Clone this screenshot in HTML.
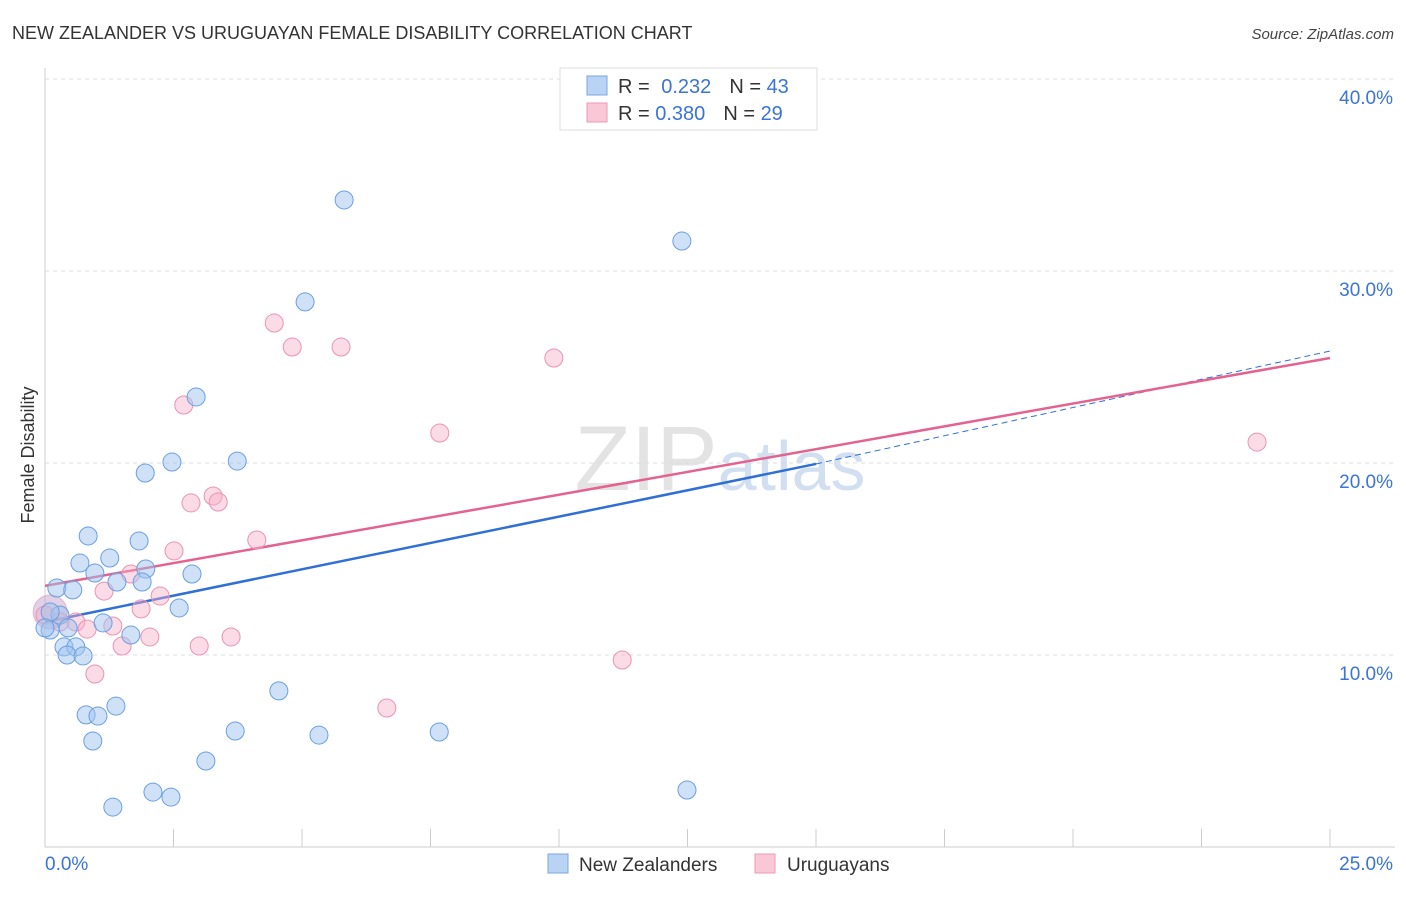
<!DOCTYPE html>
<html><head><meta charset="utf-8"><style>
body{margin:0;background:#fff;font-family:"Liberation Sans",sans-serif;}
svg text{font-family:"Liberation Sans",sans-serif;}
</style></head><body>
<svg id="chart" width="1406" height="892" xmlns="http://www.w3.org/2000/svg">
<text x="12" y="39" font-size="18" fill="#333">NEW ZEALANDER VS URUGUAYAN FEMALE DISABILITY CORRELATION CHART</text>
<text x="1394" y="39" font-size="15" fill="#444" text-anchor="end" font-style="italic">Source: ZipAtlas.com</text>
<text x="720" y="490" font-size="92" fill="#ddd" text-anchor="middle" font-family="Liberation Serif" opacity="0.8">ZIP<tspan fill="#c8d8ee" font-family="Liberation Sans" font-size="70">atlas</tspan></text>
<text transform="translate(34,455) rotate(-90)" font-size="18" fill="#333" text-anchor="middle">Female Disability</text>
<g id="grid"></g><g id="lines"></g><g id="pts"></g>
<g>
<rect x="560" y="68" width="257" height="62" fill="#fff" stroke="#ddd"/>
<rect x="587" y="76" width="20" height="19" fill="#b9d3f5" stroke="#7aa7e2"/>
<rect x="587" y="103" width="20" height="19" fill="#f9c7d6" stroke="#ee9ab5"/>
<text x="618" y="93" font-size="20" fill="#333">R = <tspan fill="#3a74d6" dx="6">0.232</tspan><tspan dx="18" fill="#333">N = </tspan><tspan fill="#3a74d6">43</tspan></text>
<text x="618" y="120" font-size="20" fill="#333">R = <tspan fill="#3a74d6">0.380</tspan><tspan dx="18" fill="#333">N = </tspan><tspan fill="#3a74d6">29</tspan></text>
</g>
<g>
<rect x="548" y="854" width="20" height="19" fill="#b9d3f5" stroke="#7aa7e2"/>
<text x="579" y="871" font-size="19" fill="#333">New Zealanders</text>
<rect x="755" y="854" width="20" height="19" fill="#f9c7d6" stroke="#ee9ab5"/>
<text x="787" y="871" font-size="19" fill="#333">Uruguayans</text>
</g>
</svg>
<script>
const xTicks=[0,2.5,5,7.5,10,12.5,15,17.5,20,22.5,25];
const yTicks=[10,20,30,40];
const blueX=[5.82,12.39,5.06,2.94,2.47,3.74,1.95,0.84,1.83,1.26,0.68,0.97,2.86,1.96,1.40,1.89,0.23,0.54,2.61,0.29,1.13,0.45,0.10,1.67,0.37,0.60,0.43,0.74,4.55,1.38,0.80,1.03,3.70,5.33,7.67,0.93,3.13,2.10,2.45,1.32,12.49,0.10,0.0];
const blueY=[33.70,31.56,28.39,23.44,20.05,20.10,19.48,16.20,15.94,15.05,14.79,14.27,14.22,14.48,13.80,13.80,13.49,13.39,12.45,12.08,11.67,11.41,11.30,11.04,10.42,10.42,10.00,9.95,8.13,7.34,6.88,6.82,6.04,5.83,5.99,5.52,4.48,2.86,2.60,2.08,2.97,12.24,11.41];
const pinkX=[4.46,4.81,5.76,9.90,2.70,7.68,23.58,3.27,2.84,3.37,4.12,2.51,1.67,1.15,2.24,1.87,0.60,1.32,0.82,2.04,3.62,1.50,3.00,11.23,0.97,6.65,0.29,0];
const pinkY=[27.29,26.04,26.04,25.47,23.02,21.56,21.09,18.28,17.92,17.97,15.99,15.42,14.22,13.33,13.07,12.40,11.72,11.51,11.35,10.94,10.94,10.47,10.47,9.74,9.01,7.24,11.72,12.08];
const bigPoint=[0.10,12.24];
const blueLine=[[0,11.72],[15,19.95]];
const blueDash=[[15,19.95],[25,25.83]];
const pinkLine=[[0,13.60],[25,25.47]];
const NS='http://www.w3.org/2000/svg';
const X=v=>45+v*51.4, Y=v=>847-v*19.2;
function mk(t,a,p){const e=document.createElementNS(NS,t);for(const k in a)e.setAttribute(k,a[k]);document.getElementById(p).appendChild(e);return e;}
const g='grid';
let ax=mk('line',{x1:45,y1:68,x2:45,y2:847,stroke:'#ccc'},g);

let bx=mk('line',{x1:45,y1:847,x2:1395,y2:847,stroke:'#ccc'},g);

yTicks.forEach(v=>{
 let l=mk('line',{x1:45,y1:Y(v),x2:1395,y2:Y(v),stroke:'#ddd','stroke-dasharray':'4,4'},g);
 
 let t=mk('text',{x:1393,y:Y(v)+25,'font-size':19,fill:'#3a74d6','text-anchor':'end'},g);
 t.textContent=v.toFixed(1)+'%';
 
});
xTicks.forEach((v,i)=>{
 if(i>0){let l=mk('line',{x1:X(v),y1:829,x2:X(v),y2:847,stroke:'#ccc'},g);
 }
});
[[0,'start',45],[25,'end',1393]].forEach(([v,a,x])=>{
 let t=mk('text',{x:x,y:870,'font-size':19,fill:'#3a74d6','text-anchor':a},g);
 t.textContent=v.toFixed(1)+'%';
 
});
function ln(s,c,d,n){let e=mk('line',{x1:X(s[0][0]),y1:Y(s[0][1]),x2:X(s[1][0]),y2:Y(s[1][1]),stroke:c,'stroke-width':d?1:2.5,'stroke-dasharray':d?'6,4':'none'},'lines');
 }
ln(blueLine,'#2f6fd6',false,'blue-trend-line');
ln(blueDash,'#2f6fd6',true,'blue-trend-extension');
ln(pinkLine,'#e5628e',false,'pink-trend-line');
let bp=mk('circle',{cx:X(bigPoint[0]),cy:Y(bigPoint[1]),r:17,fill:'rgba(200,170,210,0.55)',stroke:'rgba(220,150,190,0.6)'},'pts');

pinkX.forEach((v,i)=>{let c=mk('circle',{cx:X(v),cy:Y(pinkY[i]),r:9,fill:'rgba(246,176,200,0.45)',stroke:'#eb93b2','stroke-width':1},'pts');
 });
blueX.forEach((v,i)=>{let c=mk('circle',{cx:X(v),cy:Y(blueY[i]),r:9,fill:'rgba(160,196,240,0.5)',stroke:'#6a9fe0','stroke-width':1},'pts');
 });
</script>
</body></html>
